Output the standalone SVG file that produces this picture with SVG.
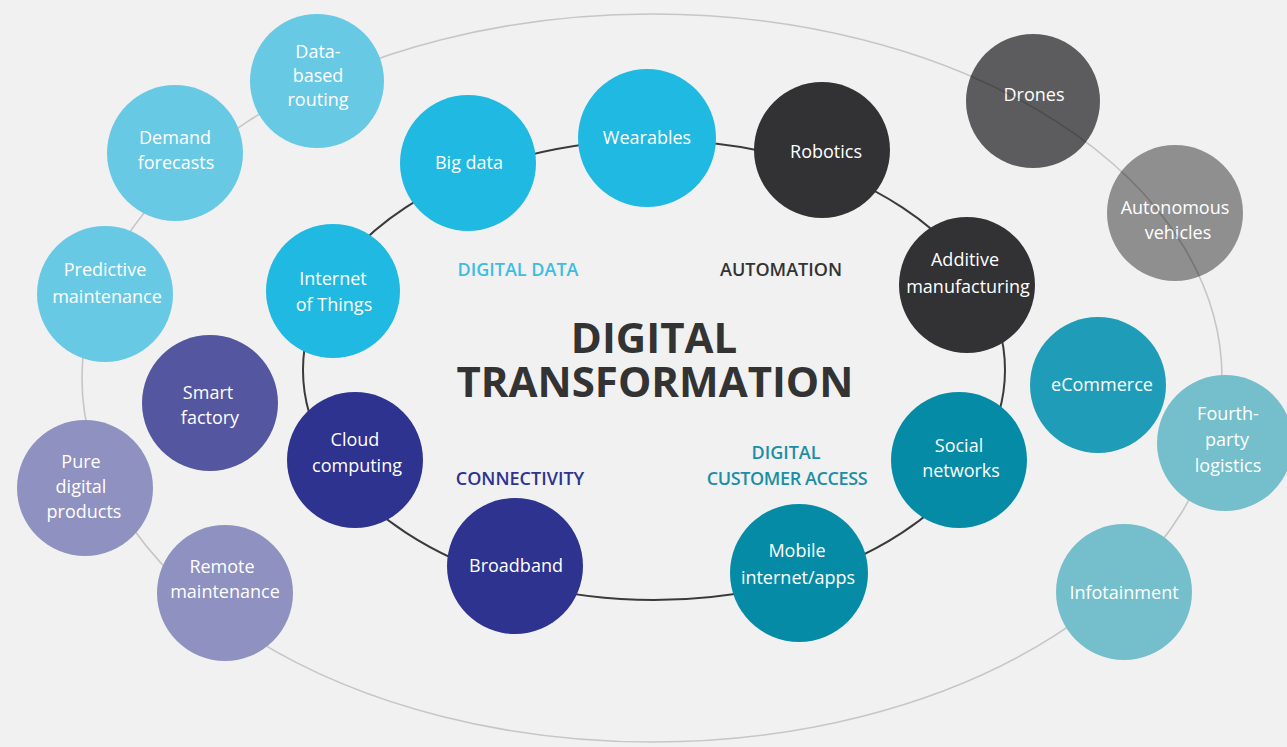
<svg xmlns="http://www.w3.org/2000/svg" width="1287" height="747" viewBox="0 0 1287 747">
<style>
.n{font-family:"Open Sans","Noto Sans","Liberation Sans",sans-serif;font-size:18px;font-weight:500;fill:#ffffff;text-anchor:middle}
.cat{font-family:"Open Sans","Noto Sans","Liberation Sans",sans-serif;font-size:18px;font-weight:600;text-anchor:middle}
.title{font-family:"Open Sans","Noto Sans","Liberation Sans",sans-serif;font-size:42px;font-weight:700;fill:#333333;text-anchor:middle}
.c1{fill:#68c9e5}.c2{fill:#1fb9e1}.c3{fill:#323234}.c4{fill:#5c5c5e}.c5{fill:#8f8f90}
.c6{fill:#1f9db8}.c7{fill:#74bfcb}.c8{fill:#068ba6}.c9{fill:#2e338f}.c10{fill:#54569f}.c11{fill:#8f91c1}
</style>
<defs>
<clipPath id="greyclip">
<circle cx="1033" cy="101" r="67"/>
<circle cx="1175" cy="213" r="68"/>
</clipPath>
</defs>
<rect width="1287" height="747" fill="#f1f1f1"/>
<g id="connectors">
<ellipse cx="652" cy="378" rx="570" ry="364" fill="none" stroke="#c6c6c6" stroke-width="1.6"/>
<ellipse cx="654" cy="370" rx="351" ry="230" fill="none" stroke="#3a3a3a" stroke-width="2"/>
</g>
<g id="node-data-based-routing"><circle class="c1" cx="317" cy="81" r="67"/><text class="n" x="318" y="58">Data-</text><text class="n" x="318" y="82">based</text><text class="n" x="318" y="106">routing</text></g>
<g id="node-demand-forecasts"><circle class="c1" cx="175" cy="153" r="68"/><text class="n" x="175" y="144">Demand</text><text class="n" x="176" y="169">forecasts</text></g>
<g id="node-predictive-maintenance"><circle class="c1" cx="105" cy="294" r="68"/><text class="n" x="105" y="276">Predictive</text><text class="n" x="107" y="303">maintenance</text></g>
<g id="node-internet-of-things"><circle class="c2" cx="333" cy="291" r="67"/><text class="n" x="333" y="285">Internet</text><text class="n" x="334" y="311">of Things</text></g>
<g id="node-big-data"><circle class="c2" cx="468" cy="163" r="68"/><text class="n" x="469" y="169">Big data</text></g>
<g id="node-wearables"><circle class="c2" cx="647" cy="138" r="69"/><text class="n" x="647" y="144">Wearables</text></g>
<g id="node-robotics"><circle class="c3" cx="822" cy="150" r="68"/><text class="n" x="826" y="158">Robotics</text></g>
<g id="node-additive-manufacturing"><circle class="c3" cx="967" cy="285" r="68"/><text class="n" x="965" y="266">Additive</text><text class="n" x="968" y="293">manufacturing</text></g>
<g id="node-drones"><circle class="c4" cx="1033" cy="101" r="67"/><text class="n" x="1034" y="101">Drones</text></g>
<g id="node-autonomous-vehicles"><circle class="c5" cx="1175" cy="213" r="68"/><text class="n" x="1175" y="214">Autonomous</text><text class="n" x="1178" y="239">vehicles</text></g>
<ellipse cx="652" cy="378" rx="570" ry="364" fill="none" stroke="#000000" stroke-opacity="0.18" stroke-width="1.6" clip-path="url(#greyclip)"/>
<g id="node-ecommerce"><circle class="c6" cx="1098" cy="385" r="68"/><text class="n" x="1102" y="391">eCommerce</text></g>
<g id="node-fourth-party-logistics"><circle class="c7" cx="1225" cy="443" r="68"/><text class="n" x="1228" y="420">Fourth-</text><text class="n" x="1227" y="446">party</text><text class="n" x="1228" y="472">logistics</text></g>
<g id="node-infotainment"><circle class="c7" cx="1124" cy="592" r="68"/><text class="n" x="1124" y="599">Infotainment</text></g>
<g id="node-social-networks"><circle class="c8" cx="959" cy="460" r="68"/><text class="n" x="959" y="452">Social</text><text class="n" x="961" y="477">networks</text></g>
<g id="node-mobile-internet-apps"><circle class="c8" cx="799" cy="573" r="69"/><text class="n" x="797" y="557">Mobile</text><text class="n" x="798" y="584">internet/apps</text></g>
<g id="node-broadband"><circle class="c9" cx="515" cy="566" r="68"/><text class="n" x="516" y="572">Broadband</text></g>
<g id="node-cloud-computing"><circle class="c9" cx="355" cy="460" r="68"/><text class="n" x="355" y="446">Cloud</text><text class="n" x="357" y="472">computing</text></g>
<g id="node-smart-factory"><circle class="c10" cx="210" cy="403" r="68"/><text class="n" x="208" y="399">Smart</text><text class="n" x="210" y="424">factory</text></g>
<g id="node-pure-digital-products"><circle class="c11" cx="85" cy="488" r="68"/><text class="n" x="81" y="468">Pure</text><text class="n" x="81" y="493">digital</text><text class="n" x="84" y="518">products</text></g>
<g id="node-remote-maintenance"><circle class="c11" cx="225" cy="593" r="68"/><text class="n" x="222" y="573">Remote</text><text class="n" x="225" y="598">maintenance</text></g>
<g id="labels">
<text class="cat" x="518" y="276" fill="#3cbde1">DIGITAL DATA</text>
<text class="cat" x="781" y="276" fill="#333333">AUTOMATION</text>
<text class="cat" x="520" y="485" fill="#2e338f">CONNECTIVITY</text>
<text class="cat" x="786" y="459" fill="#1a8ea6">DIGITAL</text>
<text class="cat" x="787" y="485" fill="#1a8ea6" letter-spacing="-0.4">CUSTOMER ACCESS</text>
<text class="title"><tspan x="654" y="353">DIGITAL</tspan><tspan x="655" y="397">TRANSFORMATION</tspan></text>
</g>
</svg>
